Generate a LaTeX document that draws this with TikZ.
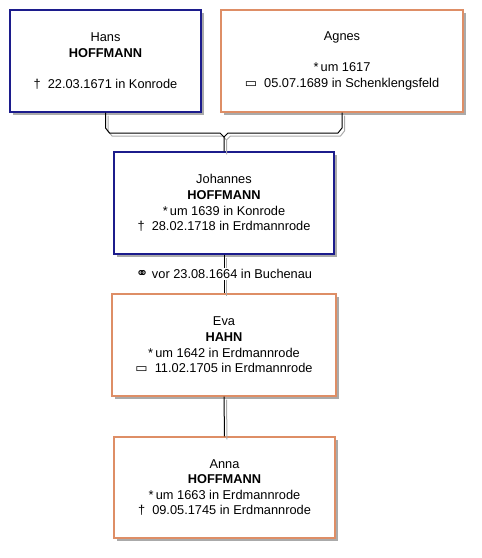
\documentclass[tikz,border=0pt]{standalone}
\usepackage{fontspec}
\setmainfont{Liberation Sans}
\newfontfamily\symfont{DejaVu Sans}
\usepackage{tikz}
\usetikzlibrary{calc, shadows}
\definecolor{boxblue}{RGB}{28,28,140}
\definecolor{boxorange}{RGB}{222,142,102}
\definecolor{shadowgray}{RGB}{170,170,170}
\newcommand{\buried}{{\symfont\fontsize{13}{13}\selectfont ▭}}
\newcommand{\wed}{{\symfont\fontsize{15}{15}\selectfont ⚭}}

\begin{document}
\begin{tikzpicture}[x=1pt, y=-1pt,
  every node/.style={font=\fontsize{12.8}{15.6}\selectfont},
  person/.style={draw, fill=white, line width=1.2pt, align=center, minimum height=102pt,
    drop shadow={shadow xshift=3pt, shadow yshift=-3pt, fill=shadowgray, opacity=1}},
  male/.style={person, draw=boxblue},
  female/.style={person, draw=boxorange},
  link/.style={draw=black, line width=1pt},
  linkshadow/.style={draw=shadowgray, line width=1pt}]
  \useasboundingbox (0,0) rectangle (482,558);
  \node[male, minimum width=191pt] (hans) at (105.5,61) {Hans\\\textbf{HOFFMANN}\\[15.6pt]†\ \ 22.03.1671 in Konrode};
  \node[female, minimum width=242pt] (agnes) at (342,61) {Agnes\\[15.6pt]*\,um 1617\\\buried\ \ 05.07.1689 in Schenklengsfeld};
  \node[male, minimum width=220pt] (johannes) at (224,203) {Johannes\\\textbf{HOFFMANN}\\*\,um 1639 in Konrode\\†\ \ 28.02.1718 in Erdmannrode};
  \node[female, minimum width=224pt] (eva) at (224,345) {Eva\\\textbf{HAHN}\\*\,um 1642 in Erdmannrode\\\buried\ \ 11.02.1705 in Erdmannrode};
  \node[female, minimum width=221pt, minimum height=101pt] (anna) at (224.5,487.5) {Anna\\\textbf{HOFFMANN}\\*\,um 1663 in Erdmannrode\\†\ \ 09.05.1745 in Erdmannrode};
  \coordinate (bar) at (224,133);
  \begin{scope}[transform canvas={shift={(2.5,3)}}]
    \draw[linkshadow] (hans.south) -- ($(hans.south |- bar)+(0,-5)$) -- ($(hans.south |- bar)+(4,0)$) -- ($(bar)+(-4,0)$) -- ($(bar)+(0,4)$) -- (johannes.north);
    \draw[linkshadow] (agnes.south) -- ($(agnes.south |- bar)+(0,-5)$) -- ($(agnes.south |- bar)+(-4,0)$) -- ($(bar)+(4,0)$) -- ($(bar)+(0,4)$);
    \draw[linkshadow] (johannes.south) -- (eva.north);
    \draw[linkshadow] (eva.south) -- (anna.north);
  \end{scope}
  \draw[link] (hans.south) -- ($(hans.south |- bar)+(0,-5)$) -- ($(hans.south |- bar)+(4,0)$) -- ($(bar)+(-4,0)$) -- ($(bar)+(0,4)$) -- (johannes.north);
  \draw[link] (agnes.south) -- ($(agnes.south |- bar)+(0,-5)$) -- ($(agnes.south |- bar)+(-4,0)$) -- ($(bar)+(4,0)$) -- ($(bar)+(0,4)$);
  \draw[link] (johannes.south) -- (eva.north) node[midway, fill=white, inner sep=1.5pt] (marriage) {\wed\ vor 23.08.1664 in Buchenau};
  \draw[link] (eva.south) -- (anna.north);
\end{tikzpicture}
\end{document}
